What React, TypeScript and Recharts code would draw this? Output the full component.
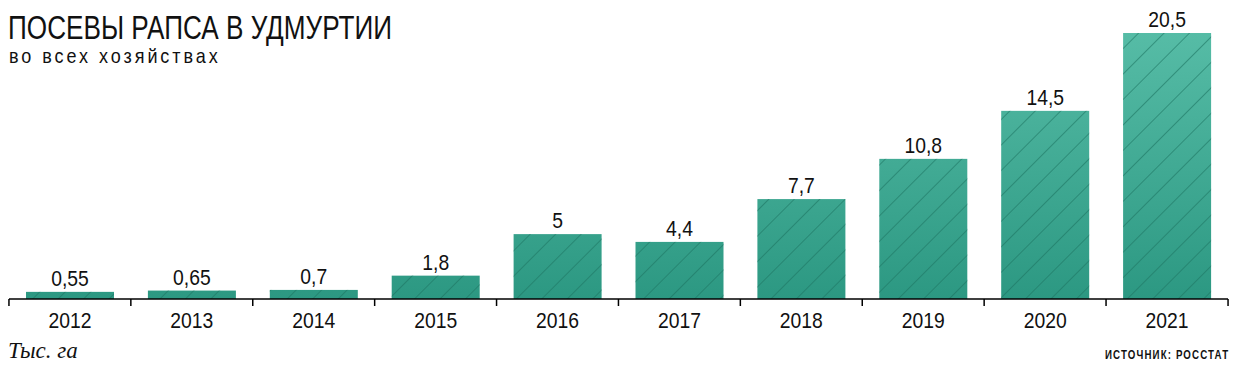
import React from "react";
import { BarChart, Bar, XAxis, YAxis, LabelList } from "recharts";

const years = ["2012", "2013", "2014", "2015", "2016", "2017", "2018", "2019", "2020", "2021"];
const area = [0.55, 0.65, 0.7, 1.8, 5, 4.4, 7.7, 10.8, 14.5, 20.5];
const valueLabels = ["0,55", "0,65", "0,7", "1,8", "5", "4,4", "7,7", "10,8", "14,5", "20,5"];

const data = years.map((year, i) => ({ year, value: area[i], label: valueLabels[i] }));

const SANS = '"Liberation Sans", Arial, sans-serif';
const BAND = 122;
const SQUEEZE = 0.86;

function HatchBar(props: any) {
  const { x, y, width, height } = props;
  if (!height || height <= 0) return null;
  return (
    <g>
      <rect x={x} y={y} width={width} height={height} fill="url(#barGrad)" />
      <rect x={x} y={y} width={width} height={height} fill="url(#hatch)" />
    </g>
  );
}

function YearTick(props: any) {
  const { x, y, payload, index } = props;
  const last = index === years.length - 1;
  return (
    <g>
      <line x1={x - BAND / 2} x2={x - BAND / 2} y1={y - 8} y2={y - 1} stroke="#000" strokeWidth={1.5} />
      {last && <line x1={x + BAND / 2} x2={x + BAND / 2} y1={y - 8} y2={y - 1} stroke="#000" strokeWidth={1.5} />}
      <text
        transform={`translate(${x},${y + 21}) scale(${SQUEEZE},1)`}
        textAnchor="middle"
        fontFamily={SANS}
        fontSize={22.5}
        fill="#111"
      >
        {payload.value}
      </text>
    </g>
  );
}

function ValueLabel(props: any) {
  const { x, y, width, value } = props;
  return (
    <text
      transform={`translate(${x + width / 2},${y - 6}) scale(${SQUEEZE},1)`}
      textAnchor="middle"
      fontFamily={SANS}
      fontSize={22.5}
      fill="#111"
    >
      {value}
    </text>
  );
}

export default function App() {
  return (
    <div style={{ position: "absolute", left: 0, top: 0, width: 1236, height: 373, background: "#fff" }}>
      <svg width={0} height={0} style={{ position: "absolute" }}>
        <defs>
          <linearGradient id="barGrad" gradientUnits="userSpaceOnUse" x1={0} y1={33} x2={0} y2={299}>
            <stop offset="0%" stopColor="#56bca6" />
            <stop offset="100%" stopColor="#2c9882" />
          </linearGradient>
          <pattern id="hatch" patternUnits="userSpaceOnUse" width={18} height={18} patternTransform="rotate(45)">
            <line x1={0} y1={0} x2={0} y2={18} stroke="#1d7563" strokeWidth={1.6} strokeOpacity={0.75} />
          </pattern>
        </defs>
      </svg>
      <BarChart
        width={1236}
        height={373}
        data={data}
        margin={{ top: 33, right: 8, left: 9, bottom: 44 }}
        barCategoryGap={17}
      >
        <YAxis hide domain={[0, 20.5]} />
        <XAxis
          dataKey="year"
          height={30}
          axisLine={{ stroke: "#000", strokeWidth: 1.5 }}
          tickLine={false}
          interval={0}
          tick={<YearTick />}
        />
        <Bar dataKey="value" shape={<HatchBar />} isAnimationActive={false}>
          <LabelList dataKey="label" content={<ValueLabel />} />
        </Bar>
      </BarChart>
      <svg
        width={1236}
        height={373}
        style={{ position: "absolute", left: 0, top: 0, pointerEvents: "none" }}
      >
        <text
          x={8}
          y={39}
          fontFamily={SANS}
          fontSize={34}
          fill="#111"
          textLength={384}
          lengthAdjust="spacingAndGlyphs"
        >
          ПОСЕВЫ РАПСА В УДМУРТИИ
        </text>
        <text
          transform="translate(9,63) scale(0.9,1)"
          fontFamily={SANS}
          fontSize={20}
          fill="#111"
          textLength={232}
          lengthAdjust="spacing"
        >
          во всех хозяйствах
        </text>
        <text
          x={8}
          y={358}
          fontFamily='"Liberation Serif", "DejaVu Serif", serif'
          fontStyle="italic"
          fontSize={23}
          fill="#111"
        >
          Тыс. га
        </text>
        <text
          transform="translate(1105,359) scale(0.72,1)"
          fontFamily={SANS}
          fontWeight="bold"
          fontSize={13.5}
          fill="#111"
          textLength={171}
          lengthAdjust="spacing"
        >
          ИСТОЧНИК: РОССТАТ
        </text>
      </svg>
    </div>
  );
}
